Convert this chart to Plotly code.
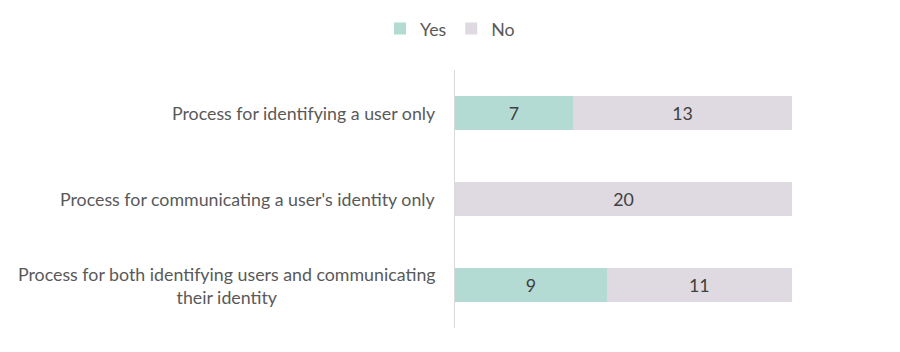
import plotly.graph_objects as go

categories = [
    "Process for identifying a user only",
    "Process for communicating a user's identity only",
    "Process for both identifying users and communicating<br>their identity",
]
yes_values = [7, 0, 9]
no_values = [13, 20, 11]
series_names = ["Yes", "No"]
colors = ["#b3dbd3", "#dfdae1"]

FONT = "Lato, Carlito, Calibri, sans-serif"
FS = 17.8

fig = go.Figure()
for name, vals, col in zip(series_names, [yes_values, no_values], colors):
    fig.add_trace(go.Bar(
        name=name,
        y=categories,
        x=vals,
        orientation="h",
        marker=dict(color=col, line=dict(width=0)),
        text=[str(v) if v else "" for v in vals],
        textposition="inside",
        insidetextanchor="middle",
        textfont=dict(color="#404040", size=FS, family=FONT),
        textangle=0,
    ))

for c in categories:
    fig.add_annotation(
        x=0, xref="paper", y=c, yref="y",
        text=c, showarrow=False, xanchor="right", align="center",
        xshift=-17, font=dict(color="#595959", size=FS, family=FONT),
    )

fig.update_layout(
    barmode="stack",
    bargap=0.615,
    width=900, height=352,
    margin=dict(l=455, r=108, t=70, b=24, autoexpand=False),
    paper_bgcolor="white",
    plot_bgcolor="white",
    font=dict(family=FONT, color="#595959", size=FS),
    legend=dict(
        orientation="h", x=0.5, xref="container", xanchor="center",
        y=1 - 29 / 352, yref="container", yanchor="middle",
        font=dict(size=FS, color="#595959", family=FONT),
        itemwidth=30, traceorder="normal",
    ),
    showlegend=True,
)
fig.update_xaxes(range=[0, 20], visible=False, fixedrange=True)
fig.update_yaxes(
    autorange="reversed", showticklabels=False, showline=True,
    linecolor="#d9d9d9", linewidth=1, ticks="", showgrid=False,
)
fig.write_html("out.html")
